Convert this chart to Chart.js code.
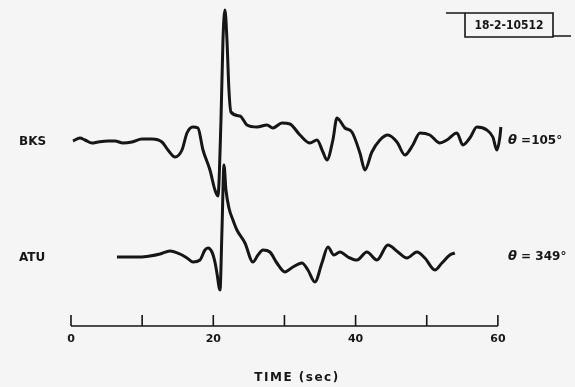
<!DOCTYPE html>
<html>
<head>
<meta charset="utf-8">
<script src="https://cdn.jsdelivr.net/npm/chart.js@4/dist/chart.umd.min.js"></script>
<style>
  html, body { margin: 0; padding: 0; background: #f5f5f5; }
  #wrap { width: 575px; height: 387px; }
</style>
</head>
<body>
<div id="wrap"><canvas id="c" width="575" height="387"></canvas></div>
<script>
// Seismograms at two stations, time in seconds, amplitude in arbitrary units
const stations = ['BKS', 'ATU'];
const azimuthSymbol = '\u03B8';
const azimuthValues = [' =105\u00B0', ' = 349\u00B0'];

const timeBKS = [0.28, 1.26, 1.97, 2.95, 3.79, 5.20, 6.18, 7.31, 8.57, 9.98, 11.38, 12.79, 13.63, 14.61,
  15.60, 16.30, 17.14, 17.84, 18.55, 19.53, 20.23, 20.65, 21.08, 21.36, 21.64, 21.92, 22.20, 22.48,
  23.75, 24.73, 26.13, 27.54, 28.38, 29.65, 30.77, 32.18, 33.58, 34.57, 35.41, 35.97, 36.81, 37.38,
  38.50, 39.48, 40.61, 41.31, 42.29, 43.42, 44.54, 45.81, 46.93, 48.05, 49.04, 50.44, 51.85, 52.83,
  54.24, 55.08, 56.06, 57.05, 58.45, 59.29, 59.86, 60.28, 60.42];
const ampBKS = [0, 3, 1, -2, -1, 0, 0, -2, -1, 2, 2, -1, -9, -16,
  -9, 8, 14, 13, -9, -29, -49, -55, 21, 101, 131, 101, 51, 29,
  25, 16, 14, 16, 13, 18, 17, 6, -2, 1, -11, -19, 1, 23,
  13, 9, -12, -29, -11, 1, 6, -1, -14, -4, 8, 6, -2, 1,
  8, -4, 3, 14, 11, 4, -9, 4, 14];

const timeATU = [6.46, 8.29, 9.69, 11.10, 12.51, 13.91, 15.32, 16.30, 17.14, 18.13, 18.83, 19.25, 19.81,
  20.23, 20.51, 20.94, 21.22, 21.50, 21.78, 22.20, 22.76, 23.32, 24.45, 25.57, 26.28, 26.98, 27.96,
  28.94, 30.07, 31.19, 32.46, 33.30, 34.28, 35.27, 36.11, 36.95, 37.80, 38.92, 40.19, 41.59, 43.00,
  44.54, 45.95, 47.21, 48.62, 49.74, 51.15, 52.13, 53.25, 53.95];
const ampATU = [0, 0, 0, 1, 3, 6, 3, -1, -5, -3, 7, 9, 5,
  -5, -16, -33, 27, 92, 67, 49, 37, 27, 14, -5, 2, 7, 5,
  -6, -15, -10, -6, -13, -25, -6, 10, 2, 5, 0, -3, 5, -3,
  12, 5, -1, 5, -1, -13, -6, 2, 4];

const timeTicks = [0, 10, 20, 30, 40, 50, 60];
const timeTickLabels = ['0', '', '20', '', '40', '', '60'];
const figureTag = '18-2-10512';
const axisTitle = 'TIME (sec)';

// vertical placement of each trace's zero line on the shared amplitude scale
const traceOffsets = [185, 69];

function toPoints(times, amps, offset) {
  return times.map((t, i) => ({ x: t, y: amps[i] + offset }));
}

const INK = '#161616';

const decorations = {
  id: 'decorations',
  afterDatasetsDraw(chart) {
    const { ctx, scales: { x, y } } = chart;
    ctx.save();
    ctx.fillStyle = INK;
    ctx.strokeStyle = INK;
    ctx.textBaseline = 'middle';
    ctx.textAlign = 'left';

    // station names and azimuths
    stations.forEach((name, i) => {
      const py = y.getPixelForValue(traceOffsets[i]);
      ctx.font = 'bold 12px "DejaVu Sans"';
      ctx.fillText(name, 19, py + 1);
      ctx.font = 'italic bold 13px "DejaVu Sans"';
      ctx.fillText(azimuthSymbol, 508, py);
      const w = ctx.measureText(azimuthSymbol).width;
      ctx.font = 'bold 12px "DejaVu Sans"';
      ctx.fillText(azimuthValues[i], 508 + w, py);
    });

    // time axis with upward ticks
    const axisY = chart.chartArea.bottom;
    ctx.lineWidth = 1.6;
    ctx.beginPath();
    ctx.moveTo(x.getPixelForValue(timeTicks[0]), axisY);
    ctx.lineTo(x.getPixelForValue(timeTicks[timeTicks.length - 1]), axisY);
    timeTicks.forEach(t => {
      const px = x.getPixelForValue(t);
      ctx.moveTo(px, axisY);
      ctx.lineTo(px, axisY - 11);
    });
    ctx.stroke();

    ctx.textAlign = 'center';
    ctx.font = 'bold 11px "DejaVu Sans"';
    timeTicks.forEach((t, i) => {
      if (timeTickLabels[i]) ctx.fillText(timeTickLabels[i], x.getPixelForValue(t), axisY + 13);
    });

    ctx.font = 'bold 12px "DejaVu Sans"';
    ctx.letterSpacing = '1.5px';
    ctx.fillText(axisTitle, 297, 378);
    ctx.letterSpacing = '0px';

    // figure tag box
    ctx.lineWidth = 1.6;
    ctx.beginPath();
    ctx.moveTo(446, 13); ctx.lineTo(553, 13);
    ctx.lineTo(553, 37); ctx.lineTo(465, 37); ctx.lineTo(465, 13);
    ctx.moveTo(553, 36); ctx.lineTo(571, 36);
    ctx.stroke();
    ctx.font = 'bold 12px "DejaVu Sans Condensed", "DejaVu Sans"';
    ctx.fillText(figureTag, 509, 26);
    ctx.restore();
  }
};

const lineStyle = {
  borderColor: INK,
  borderWidth: 3,
  pointRadius: 0,
  fill: false,
  cubicInterpolationMode: 'monotone',
  clip: false
};

new Chart(document.getElementById('c'), {
  type: 'line',
  data: {
    datasets: [
      Object.assign({ label: stations[0], data: toPoints(timeBKS, ampBKS, traceOffsets[0]) }, lineStyle),
      Object.assign({ label: stations[1], data: toPoints(timeATU, ampATU, traceOffsets[1]) }, lineStyle)
    ]
  },
  options: {
    responsive: false,
    animation: false,
    layout: { padding: { left: 71, right: 70, top: 0, bottom: 61 } },
    plugins: { legend: { display: false }, tooltip: { enabled: false } },
    scales: {
      x: { type: 'linear', min: 0, max: 61, display: false },
      y: { type: 'linear', min: 0, max: 326, display: false }
    }
  },
  plugins: [decorations]
});
</script>
</body>
</html>
